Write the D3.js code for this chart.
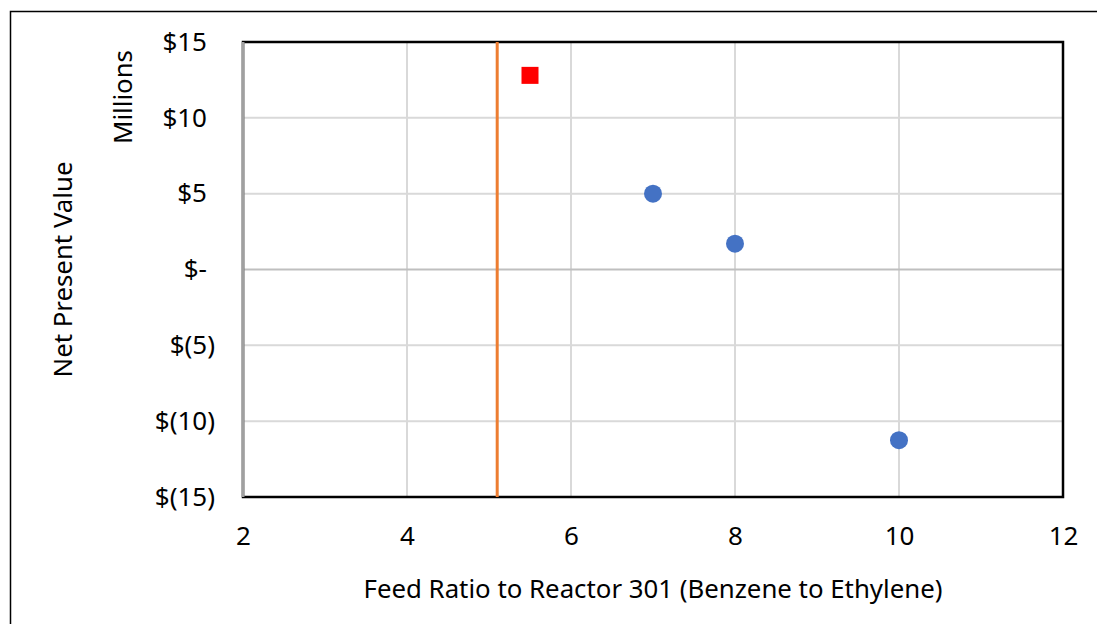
<!DOCTYPE html>
<html>
<head>
<meta charset="utf-8">
<script src="https://cdn.jsdelivr.net/npm/d3@7"></script>
<style>
  body { margin: 0; background: #fff; }
  svg text { font-family: "Noto Sans", "Open Sans", sans-serif; fill: #000; }
</style>
</head>
<body>
<div id="chart"></div>
<script>
// feed ratio cases (blue circles)
const caseRatios = [7, 8, 10];
const caseNpv = [5.0, 1.7, -11.25];
// optimum case (red square)
const optimumRatio = [5.5];
const optimumNpv = [12.8];
// minimum feed ratio (orange vertical line)
const limitRatio = 5.1;

const xTicks = [2, 4, 6, 8, 10, 12];
const yTicks = [-15, -10, -5, 0, 5, 10, 15];

const width = 1097, height = 624;
const margin = { top: 42, right: 34, bottom: 127, left: 243 };

const svg = d3.select("#chart").append("svg")
  .attr("width", width)
  .attr("height", height);

// outer chart frame
svg.append("rect")
  .attr("x", 10.5).attr("y", 11.5)
  .attr("width", width + 20).attr("height", height + 20)
  .attr("fill", "none")
  .attr("stroke", "#000")
  .attr("stroke-width", 1.5);

const x = d3.scaleLinear().domain([2, 12]).range([margin.left, width - margin.right]);
const y = d3.scaleLinear().domain([-15, 15]).range([height - margin.bottom, margin.top]);

// gridlines
svg.append("g")
  .selectAll("line")
  .data(xTicks)
  .join("line")
  .attr("x1", d => x(d)).attr("x2", d => x(d))
  .attr("y1", y(-15)).attr("y2", y(15))
  .attr("stroke", "#d9d9d9")
  .attr("stroke-width", 2);

svg.append("g")
  .selectAll("line")
  .data(yTicks)
  .join("line")
  .attr("x1", x(2)).attr("x2", x(12))
  .attr("y1", d => y(d)).attr("y2", d => y(d))
  .attr("stroke", d => d === 0 ? "#bfbfbf" : "#d9d9d9")
  .attr("stroke-width", 2);

// plot border
svg.append("rect")
  .attr("x", x(2)).attr("y", y(15))
  .attr("width", x(12) - x(2)).attr("height", y(-15) - y(15))
  .attr("fill", "none")
  .attr("stroke", "#000")
  .attr("stroke-width", 2.5);

// y axis line
svg.append("line")
  .attr("x1", x(2)).attr("x2", x(2))
  .attr("y1", y(15)).attr("y2", y(-15))
  .attr("stroke", "#a0a0a0")
  .attr("stroke-width", 3);

// limit line
svg.append("line")
  .attr("x1", x(limitRatio)).attr("x2", x(limitRatio))
  .attr("y1", y(15)).attr("y2", y(-15))
  .attr("stroke", "#ed7d31")
  .attr("stroke-width", 3);

// axes
const fmt = v => v === 0 ? "$-" : v > 0 ? "$" + v : "$(" + (-v) + ")";

const yAxis = svg.append("g")
  .attr("transform", `translate(${x(2)},0)`)
  .call(d3.axisLeft(y).tickValues(yTicks).tickFormat(fmt).tickSize(0).tickPadding(28));
yAxis.select(".domain").remove();
yAxis.selectAll("text")
  .style("font-size", "26px")
  .attr("dx", d => d < 0 ? 0 : -8);

const xAxis = svg.append("g")
  .attr("transform", `translate(0,${y(-15)})`)
  .call(d3.axisBottom(x).tickValues(xTicks).tickFormat(d3.format("d")).tickSize(0).tickPadding(30));
xAxis.select(".domain").remove();
xAxis.selectAll("text").style("font-size", "26px");

// titles
svg.append("text")
  .attr("x", (x(2) + x(12)) / 2)
  .attr("y", 598)
  .attr("text-anchor", "middle")
  .style("font-size", "25.8px")
  .text("Feed Ratio to Reactor 301 (Benzene to Ethylene)");

svg.append("text")
  .attr("transform", `translate(72,${(y(15) + y(-15)) / 2}) rotate(-90)`)
  .attr("text-anchor", "middle")
  .style("font-size", "25.8px")
  .text("Net Present Value");

svg.append("text")
  .attr("transform", `translate(132,97) rotate(-90)`)
  .attr("text-anchor", "middle")
  .style("font-size", "25.8px")
  .text("Millions");

// data points
const cases = caseRatios.map((r, i) => ({ r, v: caseNpv[i] }));
svg.append("g")
  .selectAll("circle")
  .data(cases)
  .join("circle")
  .attr("cx", d => x(d.r))
  .attr("cy", d => y(d.v))
  .attr("r", 9)
  .attr("fill", "#4472c4");

const optimum = optimumRatio.map((r, i) => ({ r, v: optimumNpv[i] }));
svg.append("g")
  .selectAll("rect")
  .data(optimum)
  .join("rect")
  .attr("x", d => x(d.r) - 8.5)
  .attr("y", d => y(d.v) - 8.5)
  .attr("width", 17)
  .attr("height", 17)
  .attr("fill", "#ff0000");
</script>
</body>
</html>
